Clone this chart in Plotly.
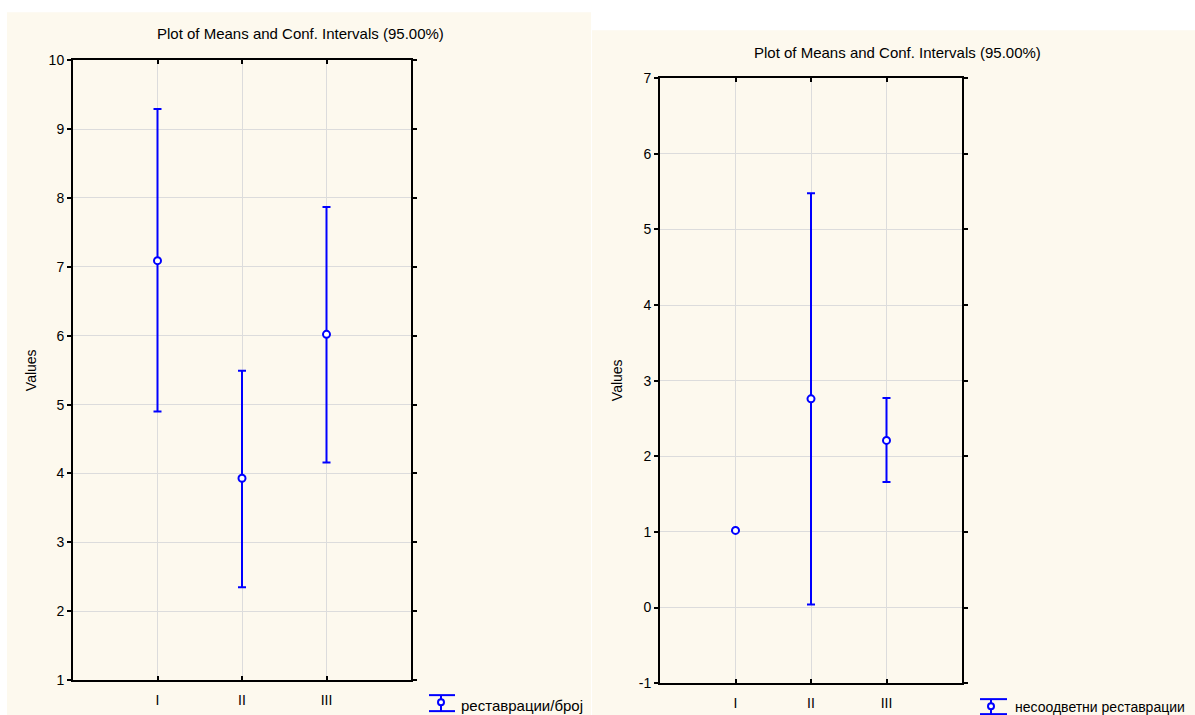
import plotly.graph_objects as go

W = 1195
FIG_H = 724      # the page is shown slightly squeezed vertically
SCALE_Y = 0.978
OFF_Y = 7.8

# ---- data ----
groups = ["I", "II", "III"]
left_name = "реставрации/број"
left_mean = [7.09, 3.93, 6.02]
left_low = [4.90, 2.35, 4.16]
left_high = [9.29, 5.49, 7.87]

right_name = "несоодветни реставрации"
right_mean = [1.02, 2.76, 2.21]
right_low = [None, 0.04, 1.66]
right_high = [None, 5.48, 2.77]

left_yticks = [1, 2, 3, 4, 5, 6, 7, 8, 9, 10]
right_yticks = [-1, 0, 1, 2, 3, 4, 5, 6, 7]

title_text = "Plot of Means and Conf. Intervals (95.00%)"
ytitle = "Values"

BLUE = "#0000FF"
CREAM = "#FDF9EE"
FONT = "Liberation Sans, Arial, sans-serif"


def px(x):
    return x / W


def py(y):
    return 1 - ((y - OFF_Y) / SCALE_Y) / FIG_H


def errs(mean, low, high):
    up, dn = [], []
    for m, l, h in zip(mean, low, high):
        if l is None or h is None:
            up.append(None)
            dn.append(None)
        else:
            up.append(h - m)
            dn.append(m - l)
    return up, dn


xs = list(range(1, len(groups) + 1))

fig = go.Figure()
for name, mean, low, high, xa, ya in [
    (left_name, left_mean, left_low, left_high, "x", "y"),
    (right_name, right_mean, right_low, right_high, "x2", "y2"),
]:
    up, dn = errs(mean, low, high)
    fig.add_trace(go.Scatter(
        x=xs, y=mean, mode="markers", name=name, xaxis=xa, yaxis=ya,
        marker=dict(symbol="circle", size=7, color="white",
                    line=dict(color=BLUE, width=2)),
        error_y=dict(type="data", symmetric=False, array=up, arrayminus=dn,
                     color=BLUE, thickness=2, width=4),
        showlegend=False,
    ))

axis_common = dict(
    showline=True, linecolor="black", linewidth=2, mirror="ticks",
    showgrid=True, gridcolor="#DCDCDC", gridwidth=1, zeroline=False,
    tickcolor="black", tickwidth=2, ticklen=4,
    tickfont=dict(family=FONT, size=14, color="black"),
)

fig.update_layout(
    width=W, height=FIG_H, autosize=False,
    margin=dict(l=0, r=0, t=0, b=0, pad=0),
    paper_bgcolor="white", plot_bgcolor="white",
    font=dict(family=FONT, size=14, color="black"),
    xaxis=dict(domain=[px(73), px(411)], range=[0, 4], tickvals=xs,
               ticktext=groups, ticks="inside", anchor="y",
               ticklabelstandoff=6, **axis_common),
    yaxis=dict(domain=[py(680), py(60)],
               range=[left_yticks[0], left_yticks[-1]],
               tickvals=left_yticks, ticktext=[str(v) for v in left_yticks],
               ticks="outside", anchor="x", **axis_common),
    xaxis2=dict(domain=[px(660), px(962)], range=[0, 4], tickvals=xs,
                ticktext=groups, ticks="inside", anchor="y2",
                ticklabelstandoff=6, **axis_common),
    yaxis2=dict(domain=[py(683), py(78)],
                range=[right_yticks[0], right_yticks[-1]],
                tickvals=right_yticks, ticktext=[str(v) for v in right_yticks],
                ticks="outside", anchor="x2", **axis_common),
)

shapes = [
    dict(type="rect", xref="paper", yref="paper", x0=px(7), x1=px(591),
         y0=0, y1=py(12), fillcolor=CREAM, line=dict(width=0), layer="below"),
    dict(type="rect", xref="paper", yref="paper", x0=px(592), x1=1,
         y0=0, y1=py(30), fillcolor=CREAM, line=dict(width=0), layer="below"),
]

annotations = [
    dict(text=title_text, x=px(300), y=py(33), xref="paper", yref="paper",
         showarrow=False, font=dict(size=15), xanchor="center", yanchor="middle"),
    dict(text=title_text, x=px(897), y=py(52), xref="paper", yref="paper",
         showarrow=False, font=dict(size=15), xanchor="center", yanchor="middle"),
    dict(text=ytitle, x=px(31), y=py(370), xref="paper", yref="paper",
         showarrow=False, textangle=-90, font=dict(size=14),
         xanchor="center", yanchor="middle"),
    dict(text=ytitle, x=px(617), y=py(380), xref="paper", yref="paper",
         showarrow=False, textangle=-90, font=dict(size=14),
         xanchor="center", yanchor="middle"),
    dict(text=left_name, x=px(459), y=py(705), xref="paper", yref="paper",
         showarrow=False, font=dict(size=15), xanchor="left", yanchor="middle"),
    dict(text=right_name, x=px(1013), y=py(707), xref="paper", yref="paper",
         showarrow=False, font=dict(size=14), xanchor="left", yanchor="middle"),
]


def legend_icon(x0, x1, ytop, ybot, cx, cy):
    out = [
        dict(type="line", xref="paper", yref="paper", x0=px(x0), x1=px(x1),
             y0=py(ytop), y1=py(ytop), line=dict(color=BLUE, width=2)),
        dict(type="line", xref="paper", yref="paper", x0=px(x0), x1=px(x1),
             y0=py(ybot), y1=py(ybot), line=dict(color=BLUE, width=2)),
        dict(type="line", xref="paper", yref="paper", x0=px(cx), x1=px(cx),
             y0=py(ytop), y1=py(ybot), line=dict(color=BLUE, width=2)),
        dict(type="circle", xref="paper", yref="paper", x0=px(cx - 3), x1=px(cx + 3),
             y0=py(cy + 3), y1=py(cy - 3), fillcolor="white",
             line=dict(color=BLUE, width=2)),
    ]
    return out


shapes += legend_icon(429, 455, 695, 711, 441, 702)
shapes += legend_icon(980, 1007, 699, 714, 991, 706)

fig.update_layout(shapes=shapes, annotations=annotations)

fig.write_html("out.html")
